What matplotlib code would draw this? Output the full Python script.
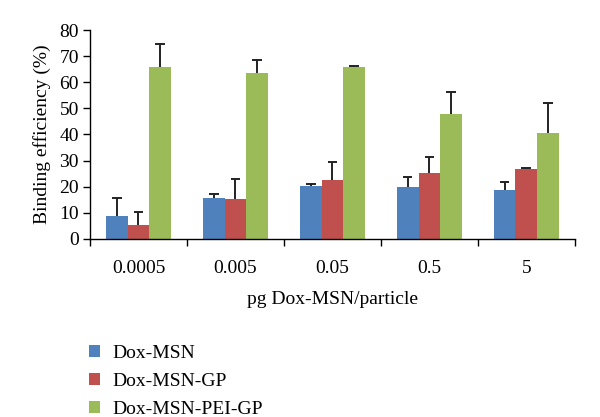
import matplotlib
matplotlib.use("Agg")
import matplotlib.pyplot as plt
import numpy as np
from matplotlib.ticker import FixedLocator

categories = ["0.0005", "0.005", "0.05", "0.5", "5"]
series = ["Dox-MSN", "Dox-MSN-GP", "Dox-MSN-PEI-GP"]
msn = [8.9, 15.7, 20.4, 19.8, 18.6]
msn_err = [6.8, 1.5, 0.5, 4.1, 3.3]
msn_gp = [5.4, 15.2, 22.6, 25.1, 26.7]
msn_gp_err = [4.9, 7.6, 6.8, 6.2, 0.6]
pei_gp = [65.8, 63.4, 65.8, 48.0, 40.5]
pei_gp_err = [8.7, 5.1, 0.5, 8.3, 11.6]

COLORS = ["#4F81BD", "#C0504D", "#9BBB59"]

plt.rcParams.update({
    "font.family": "serif",
    "font.serif": ["Liberation Serif", "DejaVu Serif"],
    "font.size": 14,
})

fig = plt.figure(figsize=(6.0, 4.17), dpi=100)
ax = fig.add_axes([0.15, 0.427, 0.808, 0.501])

x = np.arange(len(categories))
w = 0.224
cap = 0.05
values = [msn, msn_gp, pei_gp]
errs = [msn_err, msn_gp_err, pei_gp_err]
for i, (vals, err) in enumerate(zip(values, errs)):
    pos = x + (i - 1) * w
    vals = np.asarray(vals)
    top = vals + np.asarray(err)
    ax.bar(pos, vals, w, color=COLORS[i], label=series[i], zorder=2)
    # upper-only error bars with a cap on the top end
    ax.vlines(pos, vals, top, color="#222222", lw=1.4, zorder=3)
    ax.hlines(top, pos - cap, pos + cap, color="#222222", lw=1.4, zorder=3)

ax.set_xlim(-0.5, len(categories) - 0.5)
ax.set_ylim(0, 80)
ax.set_yticks(range(0, 81, 10))
ax.set_xticks(x)
ax.set_xticklabels(categories)
ax.xaxis.set_minor_locator(FixedLocator(np.arange(-0.5, len(categories), 1.0)))
ax.tick_params(axis="x", which="major", length=0, pad=15)
ax.tick_params(axis="x", which="minor", length=5, direction="out", width=1)
ax.tick_params(axis="y", length=5, direction="out", width=1, pad=3)

for s in ["top", "right"]:
    ax.spines[s].set_visible(False)
ax.spines["left"].set_linewidth(1)
ax.spines["bottom"].set_linewidth(1)

ax.set_xlabel("pg Dox-MSN/particle", labelpad=10)
ax.set_ylabel("Binding efficiency (%)", labelpad=6)

ax.legend(loc="upper left", bbox_to_anchor=(0.125, 0.205), bbox_transform=fig.transFigure,
          frameon=False, handlelength=0.6, handleheight=0.6, labelspacing=0.55,
          handletextpad=0.6, borderpad=0.2, fontsize=14)

fig.savefig("out.png", dpi=100)
